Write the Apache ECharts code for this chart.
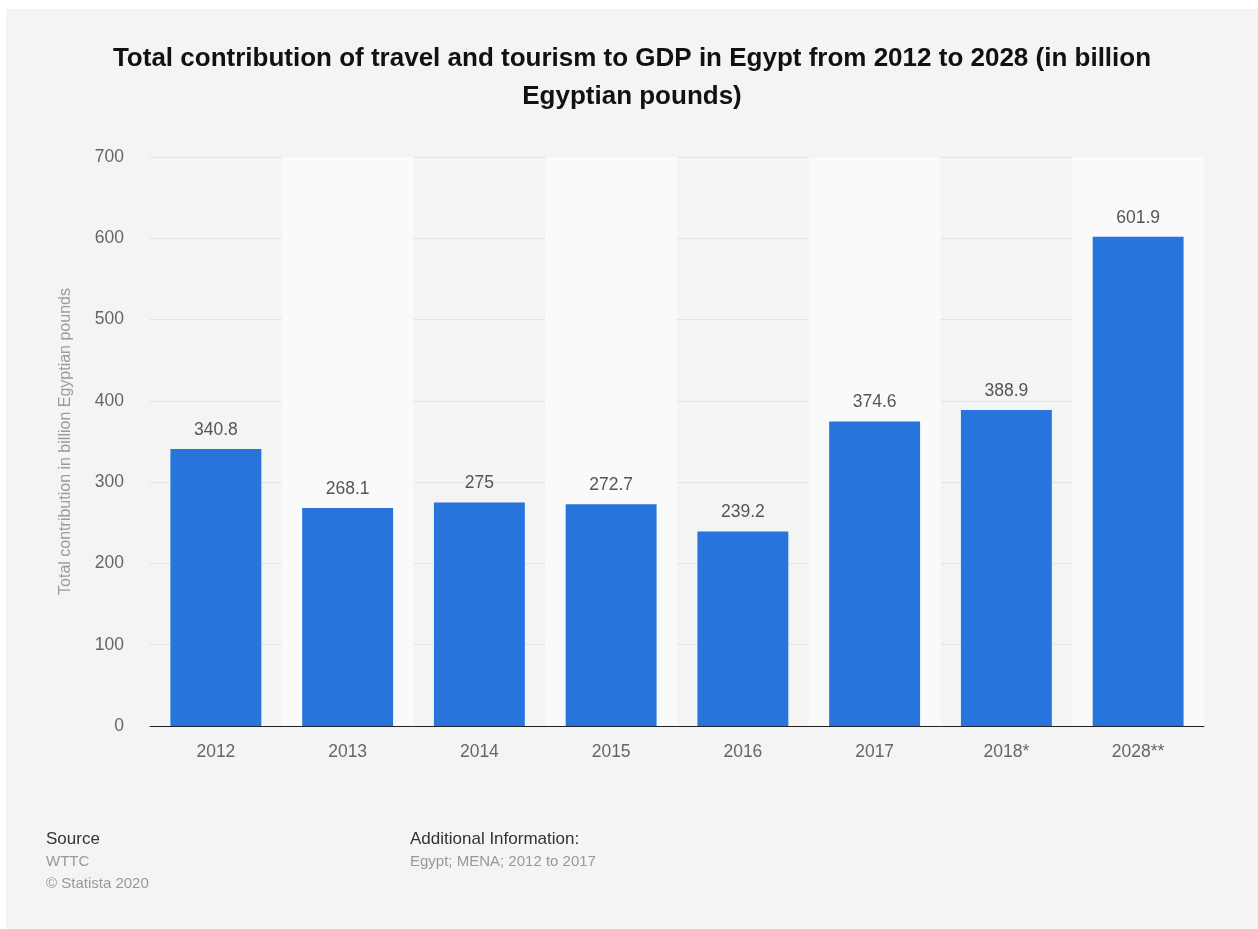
<!DOCTYPE html>
<html>
<head>
<meta charset="utf-8">
<script src="https://cdn.jsdelivr.net/npm/echarts@6/dist/echarts.min.js"></script>
<style>
html,body{margin:0;padding:0;background:#ffffff;width:1258px;height:929px;overflow:hidden;}
#chart{position:absolute;left:6px;top:9px;width:1252px;height:920px;}
</style>
</head>
<body>
<div id="chart"></div>
<script>
var categories = ['2012', '2013', '2014', '2015', '2016', '2017', '2018*', '2028**'];
var values = [340.8, 268.1, 275, 272.7, 239.2, 374.6, 388.9, 601.9];
var yTicks = [0, 100, 200, 300, 400, 500, 600, 700];

var chart = echarts.init(document.getElementById('chart'), null, {renderer: 'canvas'});
var font = '"Liberation Sans", Arial, Helvetica, sans-serif';
chart.setOption({
  backgroundColor: '#f4f4f4',
  animation: false,
  title: {
    text: 'Total contribution of travel and tourism to GDP in Egypt from 2012 to 2028 (in billion\nEgyptian pounds)',
    left: 'center',
    top: 26,
    textStyle: {fontFamily: font, fontSize: 26, fontWeight: 'bold', color: '#111', lineHeight: 38}
  },
  grid: {left: 144, right: 54, top: 148, bottom: 203, containLabel: false},
  xAxis: {
    type: 'category',
    data: categories,
    axisLine: {lineStyle: {color: '#222', width: 1}},
    axisTick: {show: false},
    axisLabel: {fontFamily: font, fontSize: 17.5, color: '#666', margin: 17},
    splitArea: {show: true, areaStyle: {color: ['rgba(0,0,0,0)', '#fafafa']}},
    splitLine: {show: false}
  },
  yAxis: {
    type: 'value',
    min: yTicks[0],
    max: yTicks[yTicks.length - 1],
    interval: 100,
    name: 'Total contribution in billion Egyptian pounds',
    nameLocation: 'middle',
    nameGap: 76,
    nameTextStyle: {fontFamily: font, fontSize: 16, color: '#9a9a9a'},
    axisLine: {show: false},
    axisTick: {show: false},
    axisLabel: {fontFamily: font, fontSize: 17.5, color: '#666', margin: 26},
    splitLine: {lineStyle: {color: '#e3e3e3', width: 1}}
  },
  series: [{
    type: 'bar',
    data: values,
    barCategoryGap: '31%',
    itemStyle: {color: '#2775dc'},
    label: {show: true, position: 'top', distance: 10, fontFamily: font, fontSize: 17.5, color: '#555'}
  }],
  graphic: [
    {type: 'text', left: 40, top: 822, style: {text: 'Source', fontFamily: font, fontSize: 17, fill: '#333'}},
    {type: 'text', left: 40, top: 845, style: {text: 'WTTC', fontFamily: font, fontSize: 15, fill: '#999'}},
    {type: 'text', left: 40, top: 867, style: {text: '© Statista 2020', fontFamily: font, fontSize: 15, fill: '#999'}},
    {type: 'text', left: 404, top: 822, style: {text: 'Additional Information:', fontFamily: font, fontSize: 17, fill: '#333'}},
    {type: 'text', left: 404, top: 845, style: {text: 'Egypt; MENA; 2012 to 2017', fontFamily: font, fontSize: 15, fill: '#999'}}
  ]
});
</script>
</body>
</html>
